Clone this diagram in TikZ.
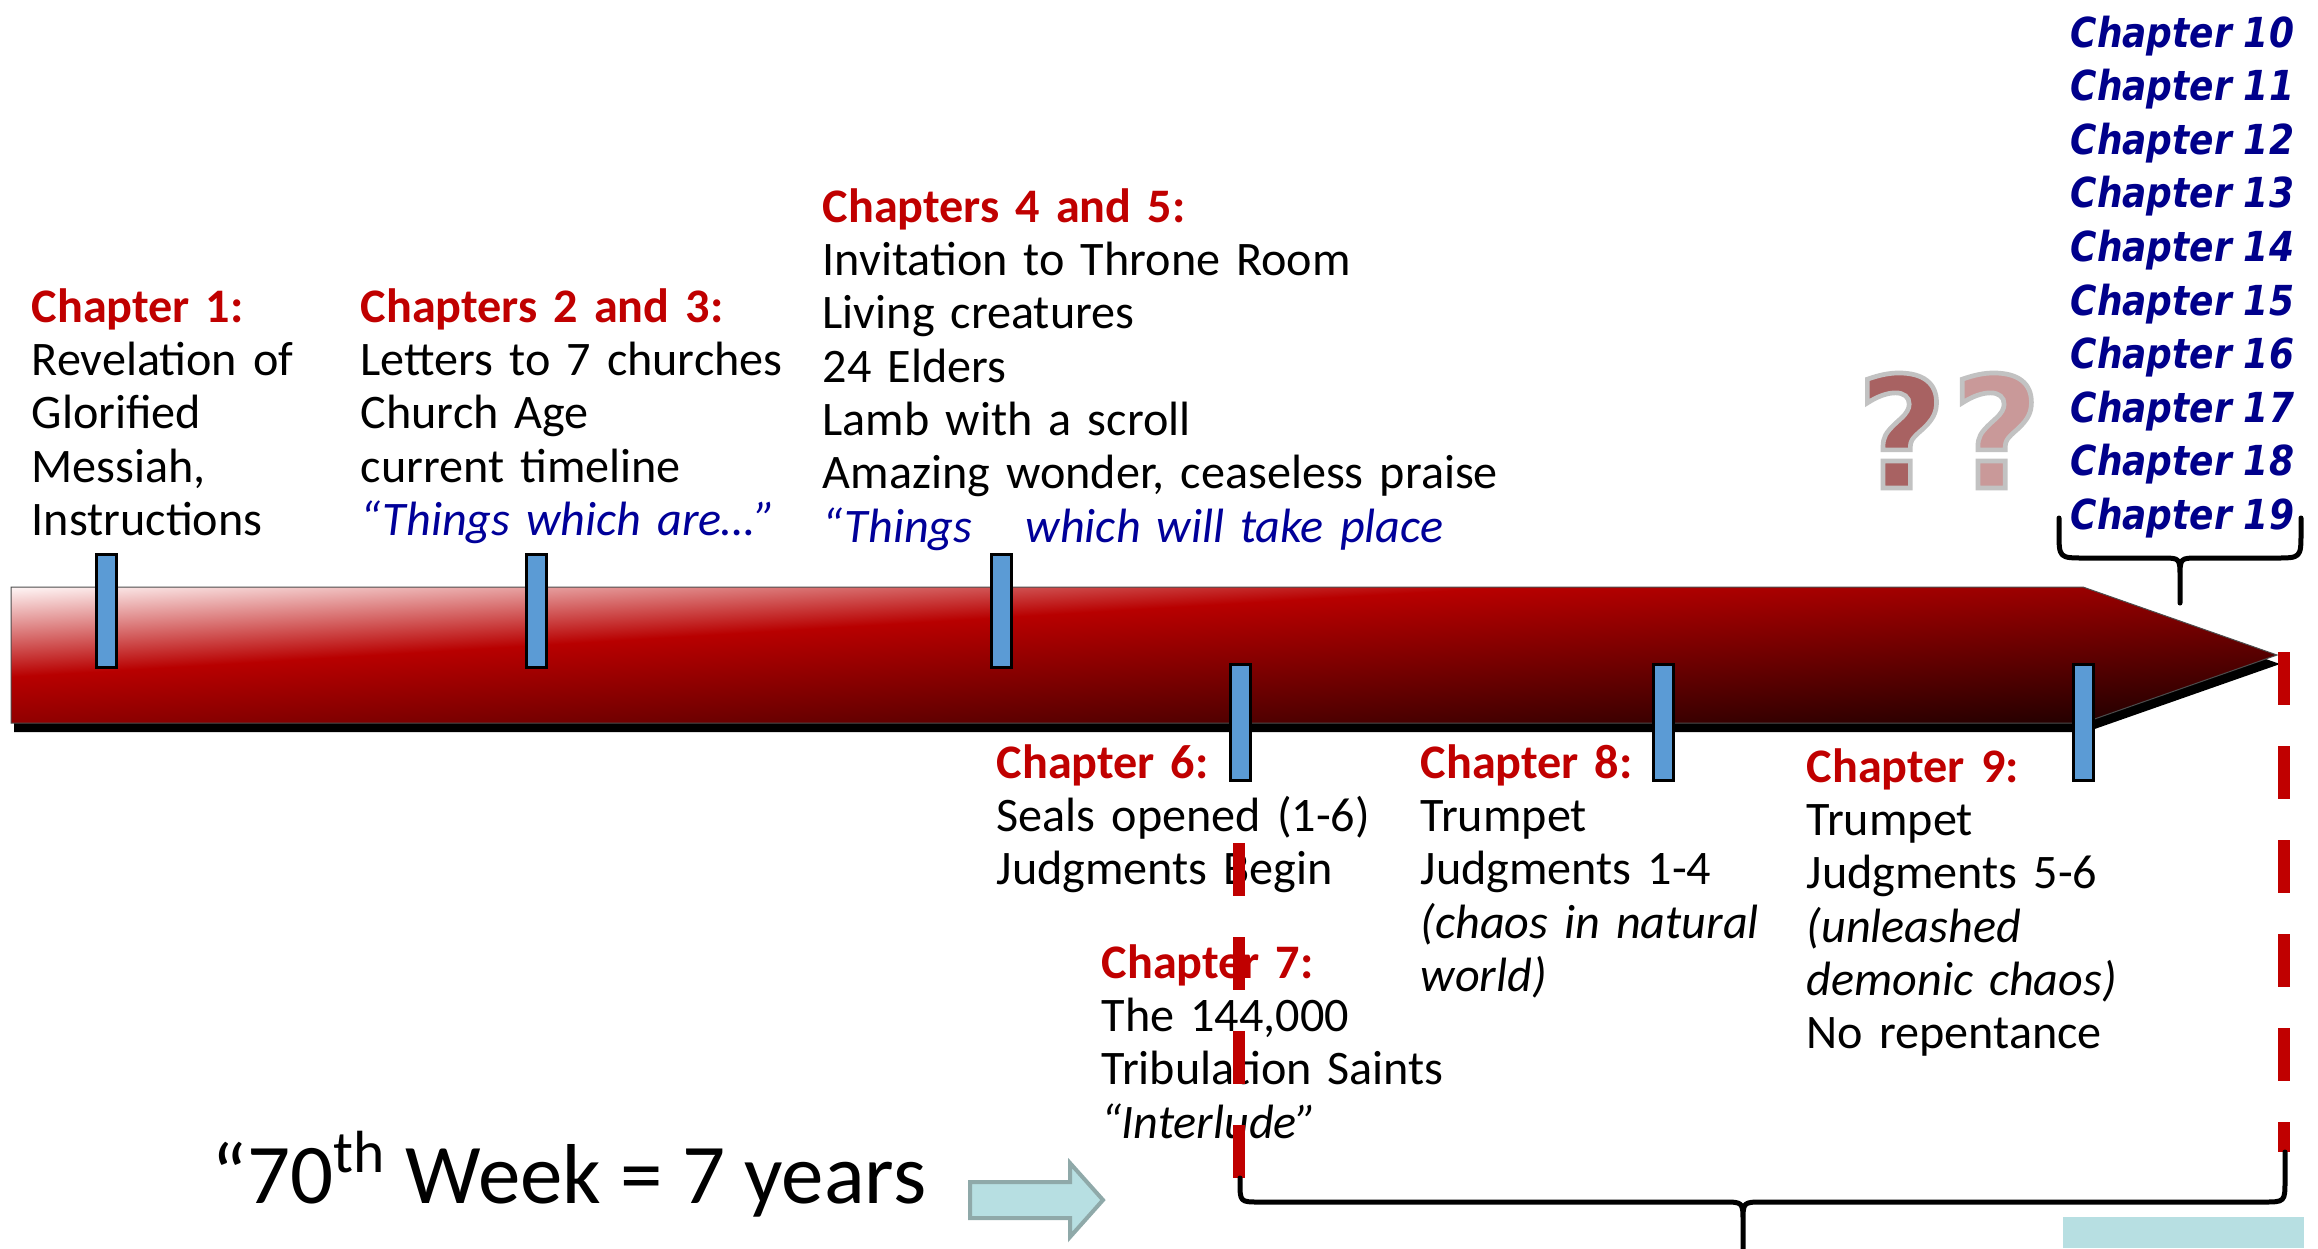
\documentclass[tikz,border=0pt]{standalone}
\usepackage{fontspec}
\usepackage{graphicx}
\setmainfont{Carlito}
\newfontfamily\chapfont{DejaVu Sans}[BoldFont={DejaVu Sans Bold},ItalicFont={DejaVu Sans Oblique},BoldItalicFont={DejaVu Sans Bold Oblique}]
\newfontfamily\qmfont{DejaVu Sans}[BoldFont={DejaVu Sans Bold}]
\newcommand\txtfont{\fontsize{14.45pt}{16pt}\selectfont}
\definecolor{hdred}{HTML}{C00000}
\definecolor{tblue}{HTML}{000099}
\definecolor{navyc}{HTML}{00008B}
\definecolor{tickblue}{HTML}{5B9BD5}
\definecolor{ashA}{HTML}{1A0000}
\definecolor{ashB}{HTML}{6A0000}
\definecolor{ashC}{HTML}{B80000}
\definecolor{ashD}{HTML}{FFF6F6}
\definecolor{barrow}{HTML}{B7DFE2}
\definecolor{barrowd}{HTML}{8FA9A9}
\definecolor{qone}{HTML}{A86262}
\definecolor{qtwo}{HTML}{C99999}
\pgfdeclareverticalshading{arrowshade}{100bp}{color(0bp)=(ashA); color(25bp)=(ashA); color(42bp)=(ashB); color(58.5bp)=(ashC); color(75bp)=(ashD); color(100bp)=(ashD)}
\newcommand\hd[1]{\textcolor{hdred}{\bfseries #1}}
\newcommand\qmark[1]{\textcolor{#1}{\special{pdf:literal direct 0.76 G}?}}
\begin{document}
\begin{tikzpicture}[x=0.3pt,y=-0.3pt,
  txt/.style={anchor=base west, inner sep=0pt, align=left, text width=250pt, font=\txtfont},
  tickbar/.style={fill=tickblue, draw=black, line width=0.9pt},
  reddash/.style={draw=hdred, line width=3.6pt, dash pattern=on 15.9pt off 12.3pt},
  bracepath/.style={draw=black, line width=1.5pt, line join=round, line cap=round},
  qm/.style={anchor=base west, inner sep=0pt, font=\qmfont\bfseries\fontsize{46.5pt}{50pt}\selectfont}
]
\useasboundingbox (0,0) rectangle (2318,1248);
% main arrow: shadow and body
\fill[black] (14,596) -- (2086,596) -- (2280,664) -- (2086,732) -- (14,732) -- cycle;
\begin{scope}
  \clip (11,587) -- (2083,587) -- (2277,655) -- (2083,723) -- (11,723) -- cycle;
  \begin{scope}[transform canvas={yslant=0.06002}]
    \shade[shading=arrowshade] (0,587.66) rectangle (2300,859.66);
  \end{scope}
\end{scope}
\draw[draw=black!70, line width=0.3pt] (11,587) -- (2083,587) -- (2277,655) -- (2083,723) -- (11,723) -- cycle;
% tick bars
\foreach \x in {106,536,1001} \draw[tickbar] (\x-10,554) rectangle (\x+10,667);
\foreach \x in {1240,1663,2083} \draw[tickbar] (\x-10,664) rectangle (\x+10,780);
% upper text blocks
\node[txt] (c1) at (31,322) {\hd{Chapter 1:}\\Revelation of\\Glorified\\Messiah,\\Instructions};
\node[txt] (c23) at (360,322) {\hd{Chapters 2 and 3:}\\Letters to 7 churches\\Church Age\\current timeline\\\textcolor{tblue}{\itshape “Things which are…”}};
\node[txt] (c45) at (822,222) {\hd{Chapters 4 and 5:}\\Invitation to Throne Room\\Living creatures\\24 Elders\\Lamb with a scroll\\Amazing wonder, ceaseless praise\\\textcolor{tblue}{\itshape “Things\hspace{16pt}which will take place}};
% lower text blocks
\node[txt] (c6) at (996,778) {\hd{Chapter 6:}\\Seals opened (1-6)\\Judgments Begin};
\node[txt] (c7) at (1101,978) {\hd{Chapter 7:}\\The 144,000\\Tribulation Saints\\\textit{“Interlude”}};
\node[txt] (c8) at (1420,778) {\hd{Chapter 8:}\\Trumpet\\Judgments 1-4\\\textit{(chaos in natural}\\\textit{world)}};
\node[txt] (c9) at (1806,782) {\hd{Chapter 9:}\\Trumpet\\Judgments 5-6\\\textit{(unleashed}\\\textit{demonic chaos)}\\No repentance};
% chapter list
\node[anchor=base west, inner sep=0pt, align=left, text width=90pt, text=navyc,
      font=\chapfont\bfseries\itshape\fontsize{12.4pt}{16.08pt}\selectfont] (clist) at (2070,47)
  {\scalebox{0.87}[1]{Chapter 10}\\\scalebox{0.87}[1]{Chapter 11}\\\scalebox{0.87}[1]{Chapter 12}\\\scalebox{0.87}[1]{Chapter 13}\\\scalebox{0.87}[1]{Chapter 14}\\\scalebox{0.87}[1]{Chapter 15}\\\scalebox{0.87}[1]{Chapter 16}\\\scalebox{0.87}[1]{Chapter 17}\\\scalebox{0.87}[1]{Chapter 18}\\\scalebox{0.87}[1]{Chapter 19}};
% question marks (gray rim drawn as glyph stroke)
\node[qm] (qq) at (1856,488) {\special{pdf:literal direct 2 Tr 1.4 w}\qmark{qone}\kern1.5pt\qmark{qtwo}\special{pdf:literal direct 0 Tr}};
% 70th week
\node[anchor=base west, inner sep=0pt, font=\fontsize{25.5pt}{28pt}\selectfont] (week) at (211,1203) {“70\textsuperscript{th} Week = 7 years};
% block arrow
\draw[fill=barrow, draw=barrowd, line width=1.2pt, line join=miter]
  (970,1182) -- (1070,1182) -- (1070,1163) -- (1103,1200) -- (1070,1237) -- (1070,1218) -- (970,1218) -- cycle;
\fill[barrow] (2063,1217) rectangle (2304,1248);
% red dashed lines
\draw[reddash] (1239,843) -- (1239,1178);
\draw[reddash] (2284,652) -- (2284,1152);
% top brace
\draw[bracepath] (2059,518) -- (2059,532) .. controls (2059,558) .. (2085,558) -- (2162,558)
  .. controls (2180,558) .. (2180,578) -- (2180,603) -- (2180,578) .. controls (2180,558) .. (2198,558)
  -- (2275,558) .. controls (2301,558) .. (2301,532) -- (2301,518);
% bottom brace
\draw[bracepath] (1240,1178) -- (1240,1182) .. controls (1240,1202) .. (1260,1202) -- (1723,1202)
  .. controls (1743,1202) .. (1743,1222) -- (1743,1250) -- (1743,1222) .. controls (1743,1202) .. (1763,1202)
  -- (2263,1202) .. controls (2285,1202) .. (2285,1180) -- (2285,1152);
\end{tikzpicture}
\end{document}
